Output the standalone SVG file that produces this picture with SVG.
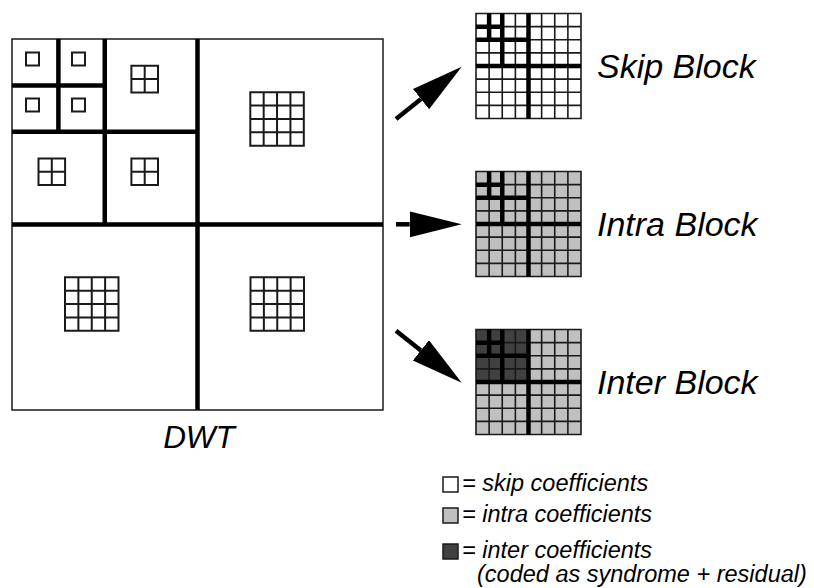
<svg xmlns="http://www.w3.org/2000/svg" xmlns:xlink="http://www.w3.org/1999/xlink" width="814" height="588" viewBox="0 0 814 588">
<style>
.thin{stroke:#1a1a1a;stroke-width:1.6;fill:none}
.sq{stroke:#1a1a1a;stroke-width:2;fill:none}
.thick{stroke:#000;stroke-width:4.5;fill:none}
.border{stroke:#1a1a1a;stroke-width:1.5;fill:#fff}
.lbl{font-family:"Liberation Sans",Arial,sans-serif;font-style:italic;fill:#000}
.big{font-size:34px}
.leg{font-size:23.5px}
.arrow{stroke:#000;stroke-width:4.5;fill:none}
</style>
<defs>
<marker id="head" markerUnits="userSpaceOnUse" markerWidth="54" markerHeight="28" refX="0" refY="13" orient="auto" viewBox="0 0 54 28">
<path d="M0,0 L52,13 L0,26 z" fill="#000"/>
</marker>
<g id="g2">
<path class="sq" d="M0,0h26.6v26.6h-26.6z M13.3,0v26.6 M0,13.3h26.6"/>
</g>
<g id="g4">
<path class="sq" d="M0,0h53.5v53.5h-53.5z M13.375,0v53.5 M26.75,0v53.5 M40.125,0v53.5 M0,13.375h53.5 M0,26.75h53.5 M0,40.125h53.5"/>
</g>
<g id="g8lines">
<path class="thin" d="M0,0h105v105h-105z M13.125,0v105 M26.25,0v105 M39.375,0v105 M52.5,0v105 M65.625,0v105 M78.75,0v105 M91.875,0v105 M0,13.125h105 M0,26.25h105 M0,39.375h105 M0,52.5h105 M0,65.625h105 M0,78.75h105 M0,91.875h105"/>
<path class="thick" d="M52.5,0v105 M0,52.5h105 M26.25,0v52.5 M0,26.25h52.5 M13.125,0v26.25 M0,13.125h26.25"/>
</g>
</defs>

<g id="dwt">
<rect class="border" x="12" y="39" width="371" height="371"/>
<path class="thick" d="M197.5,39V410 M12,224.5H383 M104.75,39V224.5 M12,131.75H197.5 M58.4,39V131.75 M12,85.4H104.75"/>
<rect class="sq" x="26" y="52.5" width="13" height="13"/>
<rect class="sq" x="72" y="52.5" width="13" height="13"/>
<rect class="sq" x="26" y="98.5" width="13" height="13"/>
<rect class="sq" x="72" y="98.5" width="13" height="13"/>
<use xlink:href="#g2" x="131.4" y="65.8"/>
<use xlink:href="#g2" x="38.5" y="158.5"/>
<use xlink:href="#g2" x="131.4" y="158.5"/>
<use xlink:href="#g4" x="250.3" y="92.2"/>
<use xlink:href="#g4" x="65" y="277.3"/>
<use xlink:href="#g4" x="250.5" y="277.3"/>
<text class="lbl" x="199" y="448" font-size="31.5" text-anchor="middle">DWT</text>
</g>

<g id="skip-block">
<rect x="476" y="13.5" width="105" height="105" fill="#fff"/>
<use xlink:href="#g8lines" x="476" y="13.5"/>
<text class="lbl big" x="597" y="78">Skip Block</text>
</g>

<g id="intra-block">
<rect x="476" y="171.5" width="105" height="105" fill="#c0c0c0"/>
<use xlink:href="#g8lines" x="476" y="171.5"/>
<text class="lbl big" x="597" y="236">Intra Block</text>
</g>

<g id="inter-block">
<rect x="476" y="329.5" width="105" height="105" fill="#c0c0c0"/>
<rect x="476" y="329.5" width="52.5" height="52.5" fill="#404040"/>
<use xlink:href="#g8lines" x="476" y="329.5"/>
<text class="lbl big" x="597" y="394">Inter Block</text>
</g>

<g id="connectors">
<line class="arrow" x1="396" y1="119" x2="421" y2="99.1" marker-end="url(#head)"/>
<line class="arrow" x1="396" y1="224.3" x2="409.7" y2="224.3" marker-end="url(#head)"/>
<line class="arrow" x1="396" y1="330.7" x2="420.9" y2="350.4" marker-end="url(#head)"/>
</g>

<g id="legend">
<rect x="443" y="477" width="15" height="15" fill="#fff" stroke="#1a1a1a" stroke-width="1.5"/>
<text class="lbl leg" x="462" y="491">= skip coefficients</text>
<rect x="443" y="508" width="15" height="15" fill="#c0c0c0" stroke="#1a1a1a" stroke-width="1.5"/>
<text class="lbl leg" x="462" y="522">= intra coefficients</text>
<rect x="443" y="544" width="15" height="15" fill="#404040" stroke="#1a1a1a" stroke-width="1.5"/>
<text class="lbl leg" x="462" y="558">= inter coefficients</text>
<text class="lbl leg" x="477" y="582">(coded as syndrome + residual)</text>
</g>
</svg>
